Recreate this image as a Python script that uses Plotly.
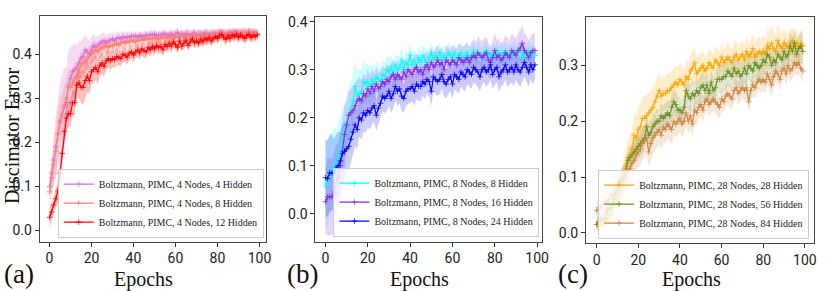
import plotly.graph_objects as go
import numpy as np

epochs = list(range(100))

# ---------------- Panel (a) ----------------
a_labels = ["Boltzmann, PIMC, 4 Nodes, 4 Hidden",
            "Boltzmann, PIMC, 4 Nodes, 8 Hidden",
            "Boltzmann, PIMC, 4 Nodes, 12 Hidden"]
a1 = [.100,.130,.160,.190,.220,.245,.265,.280,.290,.330,
      .345,.360,.365,.370,.380,.390,.395,.410,.405,.400,
      .410,.420,.415,.420,.425,.428,.430,.425,.430,.432,
      .435,.430,.436,.438,.435,.440,.437,.440,.438,.442,
      .440,.442,.438,.443,.441,.440,.444,.442,.445,.443,
      .446,.441,.444,.443,.445,.447,.442,.444,.446,.443,
      .445,.450,.443,.446,.444,.447,.445,.443,.446,.448,
      .444,.446,.447,.445,.449,.446,.444,.447,.448,.445,
      .447,.449,.446,.448,.445,.447,.450,.446,.448,.447,
      .449,.446,.448,.450,.447,.449,.446,.448,.447,.446]
a2 = [.088,.120,.150,.180,.220,.250,.260,.285,.300,.325,
      .325,.335,.345,.350,.365,.375,.380,.385,.390,.395,
      .400,.405,.410,.405,.412,.415,.418,.420,.415,.420,
      .418,.422,.425,.420,.426,.428,.425,.430,.427,.432,
      .430,.428,.433,.431,.435,.432,.436,.434,.433,.437,
      .435,.438,.434,.437,.439,.436,.438,.440,.437,.439,
      .441,.438,.440,.442,.439,.441,.443,.440,.442,.444,
      .441,.443,.440,.444,.442,.445,.443,.441,.444,.446,
      .443,.445,.447,.444,.446,.443,.447,.445,.448,.446,
      .444,.447,.449,.445,.447,.450,.446,.448,.447,.445]
a3 = [.030,.042,.058,.072,.090,.130,.175,.225,.255,.265,
      .265,.290,.290,.330,.335,.325,.325,.340,.350,.340,
      .360,.365,.370,.360,.375,.380,.372,.385,.390,.385,
      .390,.388,.395,.392,.390,.400,.398,.393,.402,.405,
      .398,.405,.410,.403,.412,.408,.405,.415,.410,.418,
      .412,.420,.415,.418,.410,.422,.417,.425,.418,.428,
      .422,.415,.430,.418,.425,.432,.420,.428,.435,.426,
      .430,.425,.434,.428,.436,.432,.438,.430,.435,.440,
      .436,.442,.445,.438,.434,.442,.436,.444,.440,.446,
      .438,.444,.440,.436,.442,.445,.438,.443,.440,.444]
a1_sd = [.02,.04,.06,.07,.08,.09,.09,.09,.08,.08,
         .07,.06,.06,.05,.05,.04,.04,.035,.03,.03,
         .03,.025,.025,.02,.02,.02,.02,.018,.018,.016,
         .015,.015,.014,.014,.013,.013,.012,.012,.012,.012,
         .010,.011,.010,.009,.010,.012,.010,.009,.011,.010,
         .010,.012,.010,.009,.011,.010,.009,.010,.012,.010,
         .011,.010,.009,.010,.011,.010,.012,.010,.009,.010,
         .010,.011,.010,.009,.010,.012,.010,.009,.011,.010,
         .010,.012,.010,.009,.011,.010,.009,.010,.012,.010,
         .011,.010,.009,.010,.011,.010,.012,.010,.009,.010]
a2_sd = [.03,.04,.04,.05,.05,.05,.05,.045,.04,.04,
         .04,.035,.035,.03,.03,.03,.028,.026,.025,.024,
         .022,.022,.02,.02,.02,.018,.018,.018,.016,.016,
         .015,.014,.015,.013,.014,.012,.014,.013,.012,.014,
         .013,.012,.014,.013,.012,.013,.014,.012,.013,.012,
         .012,.013,.012,.014,.012,.013,.012,.013,.012,.012,
         .013,.012,.012,.013,.012,.012,.013,.012,.012,.013,
         .012,.012,.013,.012,.012,.013,.012,.012,.013,.012,
         .012,.013,.012,.012,.013,.012,.012,.013,.012,.012,
         .013,.012,.012,.013,.012,.012,.013,.012,.012,.013]
a3_sd = [.025,.02,.02,.02,.025,.03,.03,.03,.03,.03,
         .03,.03,.03,.03,.035,.035,.04,.04,.035,.03,
         .03,.03,.028,.028,.025,.025,.022,.022,.02,.02,
         .02,.018,.02,.018,.017,.018,.017,.016,.017,.016,
         .016,.015,.016,.015,.016,.015,.014,.015,.016,.015,
         .015,.014,.015,.014,.015,.014,.013,.014,.015,.014,
         .014,.013,.014,.013,.014,.013,.012,.013,.014,.013,
         .013,.012,.013,.012,.013,.012,.013,.012,.012,.013,
         .012,.013,.012,.012,.013,.012,.012,.013,.012,.012,
         .013,.012,.012,.013,.012,.012,.013,.012,.012,.012]

# ---------------- Panel (b) ----------------
b_labels = ["Boltzmann, PIMC, 8 Nodes, 8 Hidden",
            "Boltzmann, PIMC, 8 Nodes, 16 Hidden",
            "Boltzmann, PIMC, 8 Nodes, 24 Hidden"]
b1 = [.058,.065,.080,.090,.100,.105,.120,.135,.160,.175,
      .190,.205,.220,.235,.265,.245,.250,.255,.275,.270,
      .275,.265,.280,.270,.285,.280,.275,.290,.285,.300,
      .295,.305,.290,.310,.300,.305,.320,.300,.315,.310,
      .330,.310,.320,.305,.325,.315,.330,.320,.310,.325,
      .335,.320,.330,.325,.335,.320,.330,.325,.335,.330,
      .325,.335,.320,.330,.335,.325,.330,.335,.325,.330,
      .340,.325,.335,.330,.325,.335,.340,.330,.325,.335,
      .330,.340,.325,.335,.330,.340,.325,.335,.330,.340,
      .330,.335,.340,.325,.335,.330,.340,.330,.335,.330]
b2 = [.025,.035,.035,.035,.045,.065,.075,.100,.130,.165,
      .185,.205,.210,.215,.225,.235,.240,.235,.250,.245,
      .260,.250,.265,.255,.270,.260,.265,.275,.270,.280,
      .275,.285,.290,.280,.290,.285,.280,.295,.285,.300,
      .295,.290,.300,.305,.295,.300,.290,.305,.310,.300,
      .315,.305,.310,.320,.310,.315,.300,.320,.315,.310,
      .320,.315,.310,.325,.320,.315,.320,.325,.315,.325,
      .330,.325,.335,.330,.325,.330,.335,.320,.315,.325,
      .340,.325,.330,.320,.325,.335,.330,.325,.340,.335,
      .330,.340,.345,.355,.340,.335,.325,.335,.340,.340]
b3 = [.075,.073,.085,.085,.085,.095,.100,.110,.125,.130,
      .135,.140,.155,.170,.185,.175,.200,.195,.210,.205,
      .215,.210,.220,.225,.205,.220,.230,.245,.240,.245,
      .255,.240,.250,.265,.255,.260,.245,.240,.255,.260,
      .260,.265,.255,.270,.265,.265,.275,.270,.280,.275,
      .255,.285,.280,.275,.280,.290,.275,.270,.280,.285,
      .270,.290,.285,.280,.295,.290,.285,.300,.295,.290,
      .305,.300,.295,.285,.300,.305,.295,.300,.310,.290,
      .300,.305,.285,.295,.300,.310,.295,.300,.305,.295,
      .310,.300,.295,.305,.315,.305,.295,.310,.300,.310]
b1_sd = [.09,.09,.08,.08,.08,.07,.07,.07,.06,.06,
         .06,.06,.06,.055,.05,.05,.05,.045,.045,.04,
         .04,.04,.035,.035,.035,.03,.03,.03,.03,.03,
         .028,.026,.028,.025,.027,.025,.026,.024,.025,.026,
         .024,.025,.023,.024,.025,.022,.024,.023,.022,.024,
         .022,.023,.021,.022,.023,.021,.022,.020,.021,.022,
         .021,.020,.022,.021,.020,.021,.022,.020,.021,.020,
         .021,.020,.022,.021,.020,.021,.022,.020,.021,.020,
         .021,.020,.022,.021,.020,.021,.022,.020,.021,.020,
         .021,.020,.022,.021,.020,.021,.022,.020,.021,.020]
b2_sd = [.07,.08,.08,.08,.08,.08,.07,.07,.07,.06,
         .05,.05,.05,.048,.046,.045,.044,.043,.042,.04,
         .04,.038,.036,.035,.035,.034,.033,.033,.032,.032,
         .031,.030,.031,.030,.030,.031,.030,.029,.030,.030,
         .030,.029,.030,.031,.030,.029,.030,.031,.030,.030,
         .031,.030,.032,.031,.030,.032,.031,.030,.032,.031,
         .032,.031,.033,.032,.031,.033,.032,.033,.032,.033,
         .034,.033,.034,.033,.034,.035,.034,.035,.034,.035,
         .036,.035,.036,.035,.036,.037,.036,.037,.036,.037,
         .036,.037,.038,.037,.036,.037,.036,.035,.036,.035]
b3_sd = [.08,.08,.08,.08,.07,.07,.07,.06,.06,.06,
         .05,.05,.05,.045,.045,.04,.04,.04,.04,.035,
         .035,.035,.034,.034,.033,.033,.032,.032,.032,.031,
         .031,.030,.031,.030,.031,.030,.031,.030,.030,.031,
         .030,.031,.030,.031,.030,.031,.030,.031,.030,.031,
         .031,.030,.031,.030,.031,.030,.031,.030,.031,.030,
         .031,.030,.031,.030,.031,.030,.031,.030,.031,.030,
         .031,.030,.031,.030,.031,.030,.031,.030,.031,.030,
         .031,.030,.031,.030,.031,.030,.031,.030,.031,.030,
         .031,.030,.031,.030,.031,.030,.031,.030,.031,.030]

# ---------------- Panel (c) ----------------
c_labels = ["Boltzmann, PIMC, 28 Nodes, 28 Hidden",
            "Boltzmann, PIMC, 28 Nodes, 56 Hidden",
            "Boltzmann, PIMC, 28 Nodes, 84 Hidden"]
c1 = [.015,.012,.015,.018,.020,.025,.030,.035,.048,.055,
      .060,.075,.090,.105,.120,.135,.140,.150,.175,.170,
      .185,.190,.205,.205,.210,.215,.220,.225,.235,.245,
      .255,.245,.250,.250,.255,.255,.260,.265,.270,.265,
      .275,.270,.265,.280,.275,.290,.295,.305,.285,.290,
      .295,.300,.290,.295,.305,.300,.295,.310,.305,.300,
      .315,.305,.310,.315,.310,.305,.315,.320,.310,.315,
      .320,.310,.325,.315,.320,.330,.315,.320,.325,.320,
      .325,.320,.335,.330,.340,.330,.325,.345,.335,.330,
      .340,.335,.330,.340,.345,.335,.340,.330,.340,.335]
c2 = [.015,.020,.025,.025,.025,.040,.045,.045,.060,.070,
      .085,.090,.095,.100,.110,.130,.135,.140,.145,.150,
      .155,.160,.165,.170,.190,.175,.180,.190,.195,.200,
      .200,.210,.205,.210,.215,.210,.225,.235,.230,.220,
      .220,.215,.225,.255,.245,.240,.250,.245,.255,.250,
      .260,.265,.255,.265,.250,.270,.255,.260,.275,.275,
      .275,.280,.280,.290,.285,.280,.295,.285,.290,.280,
      .285,.295,.285,.300,.295,.290,.305,.300,.295,.300,
      .310,.305,.320,.315,.300,.310,.305,.320,.315,.310,
      .325,.315,.320,.335,.325,.340,.320,.330,.335,.325]
c3 = [.040,.045,.048,.050,.055,.055,.060,.070,.065,.075,
      .080,.085,.090,.095,.100,.110,.115,.125,.130,.140,
      .145,.150,.160,.165,.170,.145,.160,.170,.175,.180,
      .185,.175,.190,.185,.195,.190,.185,.200,.195,.200,
      .205,.195,.200,.215,.200,.210,.195,.220,.215,.225,
      .230,.220,.235,.240,.230,.235,.240,.235,.230,.225,
      .240,.235,.245,.250,.245,.240,.255,.260,.250,.255,
      .260,.255,.260,.235,.255,.265,.260,.270,.275,.270,
      .275,.270,.285,.275,.265,.280,.290,.285,.275,.290,
      .295,.285,.300,.290,.295,.305,.300,.305,.295,.290]
c1_sd = [.010,.010,.010,.012,.012,.014,.015,.016,.018,.020,
         .022,.025,.028,.030,.032,.035,.035,.040,.040,.040,
         .040,.040,.040,.038,.038,.036,.035,.035,.035,.035,
         .032,.030,.031,.030,.032,.030,.031,.030,.030,.031,
         .030,.029,.030,.031,.030,.029,.030,.031,.029,.028,
         .026,.025,.026,.025,.024,.025,.026,.025,.024,.025,
         .025,.024,.025,.026,.025,.024,.025,.026,.025,.024,
         .025,.026,.025,.026,.027,.026,.027,.028,.027,.028,
         .030,.029,.030,.031,.032,.031,.030,.029,.028,.027,
         .026,.025,.026,.025,.024,.025,.026,.025,.024,.025]
c2_sd = [.012,.012,.012,.013,.013,.014,.014,.015,.015,.016,
         .017,.018,.019,.020,.020,.021,.021,.022,.022,.022,
         .022,.023,.023,.022,.023,.022,.023,.022,.023,.022,
         .022,.023,.022,.023,.024,.023,.024,.023,.024,.023,
         .024,.023,.024,.025,.024,.025,.024,.025,.024,.025,
         .024,.025,.024,.025,.024,.025,.024,.025,.024,.025,
         .025,.024,.025,.026,.025,.026,.025,.026,.025,.026,
         .025,.026,.025,.026,.025,.026,.025,.026,.025,.026,
         .026,.025,.026,.025,.026,.025,.026,.025,.026,.025,
         .026,.025,.026,.025,.026,.025,.026,.025,.026,.025]
c3_sd = [.020,.020,.021,.021,.022,.022,.023,.023,.024,.024,
         .025,.025,.026,.026,.027,.027,.028,.028,.028,.028,
         .028,.028,.029,.029,.028,.028,.029,.028,.028,.027,
         .027,.026,.027,.026,.026,.025,.026,.025,.025,.024,
         .024,.024,.023,.024,.023,.023,.022,.023,.022,.022,
         .022,.021,.022,.021,.021,.020,.021,.020,.020,.020,
         .020,.019,.020,.019,.020,.019,.020,.019,.020,.019,
         .019,.020,.019,.020,.019,.020,.019,.020,.019,.020,
         .020,.019,.020,.019,.020,.019,.020,.019,.020,.019,
         .019,.020,.019,.020,.019,.020,.019,.020,.019,.020]

x_ticks = [0, 20, 40, 60, 80, 100]
y_ticks_ab = [0.0, 0.1, 0.2, 0.3, 0.4]
y_ticks_c = [0.0, 0.1, 0.2, 0.3]
panel_tags = ["(a)", "(b)", "(c)"]
y_title = "Discimator Error"
x_title = "Epochs"

panels = [
    dict(series=[a1, a2, a3], sds=[a1_sd, a2_sd, a3_sd], labels=a_labels,
         colors=["#DA70D6", "#FA8072", "#FF0000"], fills=[0.25, 0.3, 0.25]),
    dict(series=[b1, b2, b3], sds=[b1_sd, b2_sd, b3_sd], labels=b_labels,
         colors=["#00FFFF", "#8A2BE2", "#0000FF"], fills=[0.2, 0.2, 0.2]),
    dict(series=[c1, c2, c3], sds=[c1_sd, c2_sd, c3_sd], labels=c_labels,
         colors=["#FFA500", "#6B8E23", "#CD853F"], fills=[0.2, 0.2, 0.2]),
]

def rgba(hexc, a):
    h = hexc.lstrip("#")
    r, g, b = int(h[0:2], 16), int(h[2:4], 16), int(h[4:6], 16)
    return f"rgba({r},{g},{b},{a})"

W, H = 831, 291
fig = go.Figure()

axis_ids = ["", "2", "3"]
legend_ids = ["legend", "legend2", "legend3"]

# bands first
for pi, p in enumerate(panels):
    xa, ya = "x" + axis_ids[pi], "y" + axis_ids[pi]
    for s, sd, col, fa in zip(p["series"], p["sds"], p["colors"], p["fills"]):
        m = np.array(s); d = np.array(sd)
        fig.add_trace(go.Scatter(x=epochs, y=m + d, mode="lines", line=dict(width=0),
                                 hoverinfo="skip", showlegend=False, xaxis=xa, yaxis=ya))
        fig.add_trace(go.Scatter(x=epochs, y=m - d, mode="lines", line=dict(width=0),
                                 fill="tonexty", fillcolor=rgba(col, fa),
                                 hoverinfo="skip", showlegend=False, xaxis=xa, yaxis=ya))
# lines
for pi, p in enumerate(panels):
    xa, ya = "x" + axis_ids[pi], "y" + axis_ids[pi]
    for s, lab, col in zip(p["series"], p["labels"], p["colors"]):
        fig.add_trace(go.Scatter(x=epochs, y=s, mode="lines+markers", name=lab,
                                 line=dict(color=col, width=1.2),
                                 marker=dict(symbol="cross-thin", size=4,
                                             line=dict(color=col, width=0.8)),
                                 xaxis=xa, yaxis=ya, legend=legend_ids[pi]))

def px_x(v): return v / W
def px_y(v): return 1 - v / H

boxes = [(40, 268, 13, 241), (318, 547, 14, 241), (591, 821, 14, 243)]
xranges = [[-4.7, 103.0], [-4.8, 102.5], [-5.1, 104.4]]
yranges = [[-0.025, 0.487], [-0.058, 0.41], [-0.019, 0.387]]
yticks = [y_ticks_ab, y_ticks_ab, y_ticks_c]
tickfont = dict(family="Liberation Sans Narrow, Roboto, sans-serif", size=14, color="#222")
serif = "Liberation Serif, DejaVu Serif, serif"

layout = dict(width=W, height=H, margin=dict(l=0, r=0, t=0, b=0),
              paper_bgcolor="white", plot_bgcolor="white", showlegend=True)
for i, (l, r, t, b) in enumerate(boxes):
    sfx = axis_ids[i]
    layout["xaxis" + sfx] = dict(domain=[px_x(l), px_x(r)], range=xranges[i],
                                 anchor="y" + sfx, tickvals=x_ticks, ticks="outside",
                                 ticklen=4, tickcolor="#333", showgrid=False, zeroline=False,
                                 showline=True, mirror=True, linecolor="#444", linewidth=1,
                                 tickfont=tickfont)
    layout["yaxis" + sfx] = dict(domain=[px_y(b), px_y(t)], range=yranges[i],
                                 anchor="x" + sfx, tickvals=yticks[i], tickformat=".1f",
                                 ticks="outside", ticklen=4, tickcolor="#333",
                                 showgrid=False, zeroline=False, showline=True, mirror=True,
                                 linecolor="#444", linewidth=1, tickfont=tickfont)

leg_pos = [(266, 237), (544, 236), (816, 238)]
for i, (lx, ly) in enumerate(leg_pos):
    layout[legend_ids[i]] = dict(x=px_x(lx), y=px_y(ly), xanchor="right", yanchor="bottom",
                                 bgcolor="rgba(255,255,255,0.8)", bordercolor="#cccccc",
                                 borderwidth=1, itemwidth=30, tracegroupgap=0,
                                 traceorder="normal",
                                 font=dict(family=serif, size=10, color="#222"))
fig.update_layout(**layout)

ann = []
ann.append(dict(text=y_title, x=px_x(11.5), y=px_y(134), xref="paper", yref="paper",
                textangle=-90, showarrow=False, xanchor="center", yanchor="middle",
                font=dict(family=serif, size=20, color="#111")))
for cx in [145, 423, 697]:
    ann.append(dict(text=x_title, x=px_x(cx), y=px_y(279), xref="paper", yref="paper",
                    showarrow=False, xanchor="center", yanchor="middle",
                    font=dict(family=serif, size=20, color="#111")))
for tag, cx in zip(panel_tags, [19, 305, 578]):
    ann.append(dict(text=tag, x=px_x(cx), y=px_y(274), xref="paper", yref="paper",
                    showarrow=False, xanchor="center", yanchor="middle",
                    font=dict(family=serif, size=27, color="#111")))
fig.update_layout(annotations=ann)

fig.write_html("out.html", config={"displayModeBar": False},
               post_script="document.body.style.margin='0';document.body.style.padding='0';document.body.style.overflow='hidden';")
